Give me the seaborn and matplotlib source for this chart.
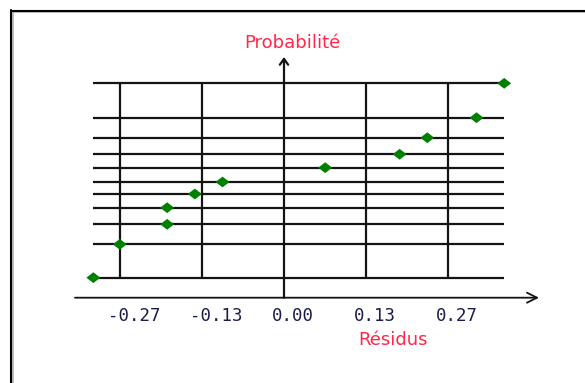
import matplotlib
matplotlib.use('Agg')
import matplotlib.pyplot as plt
import seaborn as sns
import pandas as pd
from matplotlib.lines import Line2D
from matplotlib.path import Path

# ---- data ----
residus = [-0.310, -0.267, -0.190, -0.190, -0.145, -0.100, 0.067, 0.188, 0.233, 0.313, 0.358]
probabilite = [-1.690, -1.110, -0.762, -0.473, -0.235, -0.026, 0.223, 0.456, 0.744, 1.092, 1.690]
grid_x = [-0.2667, -0.1333, 0.1333, 0.2667]
tick_pos = [-0.2667, -0.1333, 0.0, 0.1333, 0.2667]
tick_labels = ['-0.27', '-0.13', '0.00', '0.13', '0.27']
x_title = 'Résidus'
y_title = 'Probabilité'

df = pd.DataFrame({'Résidus': residus, 'Probabilité': probabilite})

W, H = 585, 383
sns.set_theme(style='white')
plt.rcParams['font.family'] = ['DejaVu Sans']
fig = plt.figure(figsize=(W / 100, H / 100), dpi=100)
fig.patch.set_facecolor('white')
ax = fig.add_axes([0, 0, 1, 1])
ax.set_facecolor('white')

# layout constants (pixel frame)
X0, SX = 284.0, 615.0
Y0, SY = 180.5, 57.5


def px(p):
    return (p - X0) / SX


def py(p):
    return (Y0 - p) / SY


LINE = '#141414'
LW = 1.6

# horizontal lines at each probability level
ax.hlines(df['Probabilité'], df['Résidus'].min(), df['Résidus'].max(),
          color=LINE, lw=LW, zorder=2)
# vertical grid lines
ax.vlines(grid_x, df['Probabilité'].min(), df['Probabilité'].max(),
          color=LINE, lw=LW, zorder=2)

# axes with arrows
ax.annotate('', xy=(px(539), py(297.7)), xytext=(px(75), py(297.7)),
            arrowprops=dict(arrowstyle='->,head_length=0.6,head_width=0.3',
                            color=LINE, lw=1.3, shrinkA=0, shrinkB=0), zorder=2)
ax.annotate('', xy=(0, py(57)), xytext=(0, py(297.7)),
            arrowprops=dict(arrowstyle='->,head_length=0.35,head_width=0.25',
                            color=LINE, lw=LW, shrinkA=0, shrinkB=0), zorder=2)

# points (flattened diamonds)
diamond = Path([(-1, 0), (0, 0.78), (1, 0), (0, -0.78), (-1, 0)],
               [Path.MOVETO, Path.LINETO, Path.LINETO, Path.LINETO, Path.CLOSEPOLY])
sns.scatterplot(data=df, x='Résidus', y='Probabilité', marker=diamond, s=100,
                color='#008000', edgecolor='none', ax=ax, zorder=5)

# tick labels
for t, lab in zip(tick_pos, tick_labels):
    ax.text(t - 12 / SX, py(316), lab, ha='left', va='center',
            fontsize=12.5, family='DejaVu Sans Mono', color='#1c1c4c')

ax.text(px(292), py(43), y_title, ha='center', va='center',
        fontsize=13, color='#ff2848')
ax.text(px(393), py(340), x_title, ha='center', va='center',
        fontsize=13, color='#ff2848')

ax.set_xlim(-X0 / SX, (W - X0) / SX)
ax.set_ylim((Y0 - H) / SY, Y0 / SY)
ax.axis('off')

# frame border (top and left visible)
fig.add_artist(Line2D([12.5 / W, 12.5 / W], [0, 1 - 10.5 / H],
                      transform=fig.transFigure, color='#b0b0b0', lw=1.2))
fig.add_artist(Line2D([12 / W, 1], [1 - 11.5 / H, 1 - 11.5 / H],
                      transform=fig.transFigure, color='#b0b0b0', lw=1.2))
fig.add_artist(Line2D([11.2 / W, 11.2 / W], [0, 1 - 10 / H],
                      transform=fig.transFigure, color='black', lw=1.5))
fig.add_artist(Line2D([11 / W, 1], [1 - 10.5 / H, 1 - 10.5 / H],
                      transform=fig.transFigure, color='black', lw=1.5))

fig.savefig('out.png', dpi=100, facecolor='white')
